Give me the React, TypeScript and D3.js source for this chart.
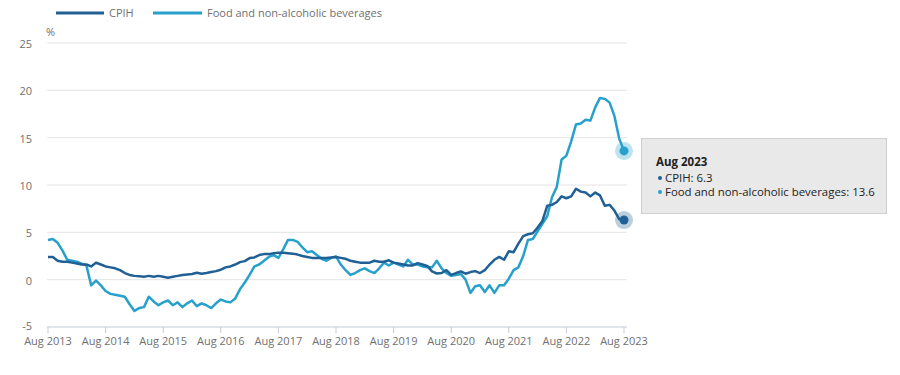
import React from "react";
import * as d3 from "d3";

const xTickLabels = ["Aug 2013","Aug 2014","Aug 2015","Aug 2016","Aug 2017","Aug 2018","Aug 2019","Aug 2020","Aug 2021","Aug 2022","Aug 2023"];
const yTicks = [-5, 0, 5, 10, 15, 20, 25];

// Monthly, Aug 2013 .. Aug 2023
const cpih = [
  2.4, 2.4, 2.0, 1.9, 1.9,
  1.8, 1.7, 1.6, 1.6, 1.4, 1.8, 1.6, 1.4, 1.3, 1.2, 1.0, 0.7,
  0.5, 0.4, 0.35, 0.3, 0.4, 0.3, 0.4, 0.3, 0.2, 0.3, 0.4, 0.5,
  0.55, 0.6, 0.73, 0.63, 0.7, 0.8, 0.9, 1.05, 1.3, 1.4, 1.6, 1.85,
  1.96, 2.28, 2.35, 2.6, 2.7, 2.7, 2.8, 2.85, 2.85, 2.8, 2.75, 2.65,
  2.5, 2.4, 2.3, 2.3, 2.3, 2.3, 2.35, 2.4, 2.3, 2.2, 2.0, 1.9,
  1.8, 1.8, 1.8, 2.0, 1.9, 1.9, 2.05, 1.8, 1.7, 1.6, 1.5, 1.5,
  1.75, 1.6, 1.45, 0.87, 0.65, 0.7, 1.0, 0.5, 0.7, 0.87, 0.63, 0.8,
  0.9, 0.7, 1.0, 1.6, 2.1, 2.4, 2.1, 3.0, 2.9, 3.8, 4.6, 4.8,
  4.9, 5.5, 6.2, 7.8, 7.9, 8.2, 8.8, 8.6, 8.8, 9.6, 9.3, 9.2,
  8.8, 9.2, 8.9, 7.8, 7.9, 7.3, 6.4, 6.3,
];

const food = [
  4.2, 4.3, 3.9, 3.1, 2.1,
  2.0, 1.9, 1.7, 1.5, -0.6, -0.1, -0.6, -1.2, -1.5, -1.6, -1.7, -1.8,
  -2.6, -3.3, -3.0, -2.9, -1.8, -2.3, -2.7, -2.4, -2.2, -2.7, -2.4, -2.9,
  -2.5, -2.2, -2.8, -2.5, -2.7, -3.0, -2.5, -2.1, -2.3, -2.4, -2.0, -1.0,
  -0.3, 0.5, 1.4, 1.6, 2.0, 2.4, 2.6, 2.3, 3.2, 4.2, 4.2, 4.0,
  3.4, 2.9, 3.0, 2.6, 2.2, 2.0, 2.3, 2.45, 1.6, 1.0, 0.5, 0.7,
  1.0, 1.2, 0.9, 0.7, 1.2, 1.8, 1.5, 1.8, 1.6, 1.4, 2.1, 1.6,
  1.6, 1.4, 1.3, 1.3, 2.0, 1.2, 0.7, 0.4, 0.5, 0.6, 0.0, -1.4,
  -0.7, -0.6, -1.3, -0.6, -1.4, -0.6, -0.6, 0.1, 1.0, 1.3, 2.5, 4.2,
  4.3, 5.1, 5.9, 6.7, 8.7, 9.8, 12.7, 13.1, 14.6, 16.4, 16.5, 16.9,
  16.8, 18.2, 19.2, 19.1, 18.7, 17.3, 14.9, 13.6,
];

const seriesNames = ["CPIH", "Food and non-alcoholic beverages"];
const colors = ["#206095", "#27a0cc"];
const tooltipTitle = "Aug 2023";

export default function App() {
  const W = 900, H = 375;
  const x = d3.scaleLinear().domain([0, cpih.length - 1]).range([48, 624]);
  const y = d3.scaleLinear().domain([-5, 25]).range([327, 43]);
  const line = d3.line<number>().x((_, i) => x(i)).y((d) => y(d));
  const last = cpih.length - 1;
  const font = "'Open Sans', sans-serif";
  const grey = "#707070";

  return (
    <svg width={W} height={H} style={{ position: "absolute", left: 0, top: 0, background: "#fff" }} fontFamily={font}>
      {/* legend */}
      <line x1={56} x2={104} y1={13} y2={13} stroke={colors[0]} strokeWidth={3} />
      <text x={109} y={13} dy="0.35em" fontSize={11} fill={grey}>{seriesNames[0]}</text>
      <line x1={153} x2={202} y1={13} y2={13} stroke={colors[1]} strokeWidth={3} />
      <text x={207} y={13} dy="0.35em" fontSize={11} fill={grey}>{seriesNames[1]}</text>

      {/* gridlines & y ticks */}
      {yTicks.map((t) => (
        <g key={t}>
          {t !== -5 && <line x1={47} x2={627} y1={y(t)} y2={y(t)} stroke="#e4e4e4" strokeWidth={1} />}
          <text x={32} y={y(t) + (t === -5 ? -1 : 1)} dy="0.35em" textAnchor="end" fontSize={11} fill={grey}>{t}</text>
        </g>
      ))}
      <text x={46} y={36} fontSize={11} fill={grey}>%</text>

      {/* x axis */}
      <line x1={47} x2={627} y1={y(-5)} y2={y(-5)} stroke="#c3cbd8" strokeWidth={1} />
      {xTickLabels.map((lab, k) => {
        const xi = x(k * 12);
        return (
          <g key={lab}>
            <line x1={xi} x2={xi} y1={y(-5)} y2={y(-5) + 6} stroke="#c3cbd8" strokeWidth={1} />
            <text x={xi} y={341} dy="0.35em" textAnchor="middle" fontSize={11} fill={grey}>{lab}</text>
          </g>
        );
      })}

      {/* lines */}
      <path d={line(food) || ""} fill="none" stroke={colors[1]} strokeWidth={2.5} strokeLinejoin="round" />
      <path d={line(cpih) || ""} fill="none" stroke={colors[0]} strokeWidth={2.5} strokeLinejoin="round" />

      {/* hover markers */}
      <circle cx={x(last)} cy={y(food[last])} r={9} fill={colors[1]} opacity={0.3} />
      <circle cx={x(last)} cy={y(food[last])} r={4.5} fill={colors[1]} />
      <circle cx={x(last)} cy={y(cpih[last])} r={9} fill={colors[0]} opacity={0.3} />
      <circle cx={x(last)} cy={y(cpih[last])} r={4.5} fill={colors[0]} />

      {/* tooltip */}
      <rect x={641.5} y={138.5} width={245} height={75} fill="#e9e9e9" stroke="#cfcfcf" strokeWidth={1} />
      <text x={656} y={162} dy="0.35em" fontSize={11.5} fontWeight="bold" fill="#222">{tooltipTitle}</text>
      <circle cx={660} cy={178} r={2} fill={colors[0]} />
      <text x={665} y={178} dy="0.35em" fontSize={11.4} fill="#222">{`${seriesNames[0]}: ${cpih[last]}`}</text>
      <circle cx={660} cy={192} r={2} fill={colors[1]} />
      <text x={665} y={192} dy="0.35em" fontSize={11.4} fill="#222">{`${seriesNames[1]}: ${food[last]}`}</text>
    </svg>
  );
}
